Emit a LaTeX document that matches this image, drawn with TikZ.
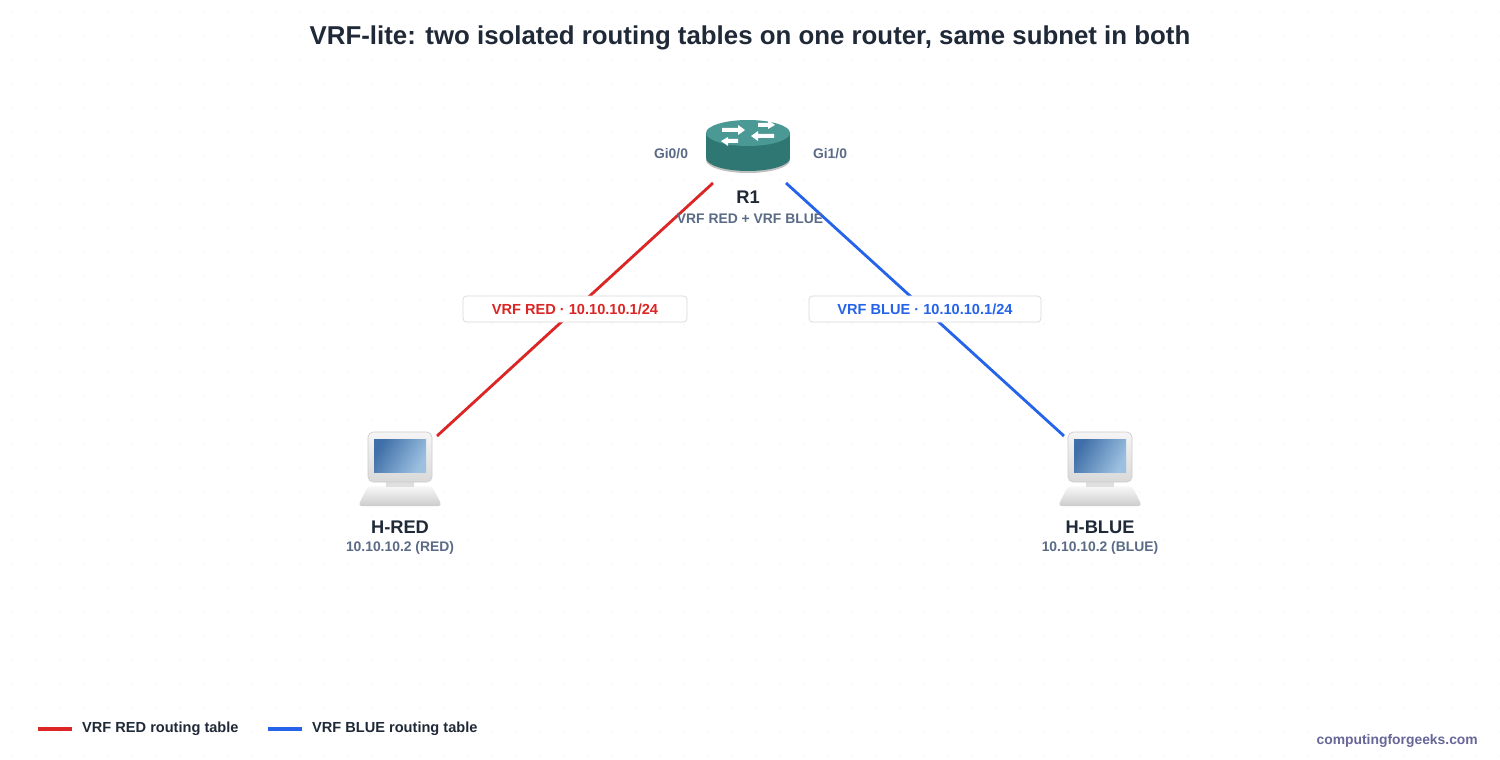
\documentclass[tikz,border=0pt]{standalone}
\usepackage{fontspec}
\setmainfont{Liberation Sans}
\definecolor{tred}{HTML}{DC2626}
\definecolor{tblue}{HTML}{2563EB}
\definecolor{tdark}{HTML}{1F2937}
\definecolor{tgrey}{HTML}{5B6B86}
\definecolor{teal1}{HTML}{4A9995}
\definecolor{teal2}{HTML}{2F7773}
\definecolor{scr1}{HTML}{3F6FA8}
\definecolor{scr2}{HTML}{9CC0E0}
\begin{document}
\begin{tikzpicture}[x=0.02cm,y=-0.02cm,
  lbl/.style={font=\bfseries\fontsize{7.9}{9}\selectfont,text=tgrey},
  hname/.style={font=\bfseries\fontsize{10.4}{12}\selectfont,text=tdark},
  tag/.style={draw=black!15,fill=white,rounded corners=2pt,minimum width=224*0.02cm,minimum height=26*0.02cm,font=\bfseries\fontsize{8.3}{10}\selectfont},
  link/.style={line width=1.6pt}]
\useasboundingbox (0,0) rectangle (1500,760);
\fill[white] (0,0) rectangle (1500,760);
\foreach \i in {0,...,62}{\foreach \j in {0,...,31}{\fill[black!8] (\i*24+12,\j*24+12) circle (0.6);}}
\node[font=\bfseries\fontsize{14.7}{17}\selectfont,text=tdark] (title) at (750,38) {VRF-lite: two isolated routing tables on one router, same subnet in both};
\coordinate (r1a) at (713,183);
\coordinate (r1b) at (786,183);
\coordinate (hra) at (437,436);
\coordinate (hba) at (1064,436);
\draw[link,tred] (r1a) -- (hra);
\draw[link,tblue] (r1b) -- (hba);
\node[tag,text=tred] (tr) at (575,309) {VRF RED · 10.10.10.1/24};
\node[tag,text=tblue,minimum width=232*0.02cm] (tb) at (925,309) {VRF BLUE · 10.10.10.1/24};
% router
\fill[gray!50] (748,160) ellipse (42 and 13);
\fill[teal2] (748,158) ellipse (42 and 13);
\fill[teal2] (706,133) rectangle (790,158);
\fill[teal1] (748,133) ellipse (42 and 13);
\fill[white] (722,128) -- (738,128) -- (738,125) -- (745,130) -- (738,135) -- (738,132) -- (722,132) -- cycle;
\fill[white] (774,138) -- (758,138) -- (758,141) -- (751,136) -- (758,131) -- (758,134) -- (774,134) -- cycle;
\fill[white] (758,123) -- (768,123) -- (768,120) -- (775,125) -- (768,129) -- (768,127) -- (758,127) -- cycle;
\fill[white] (738,143) -- (728,143) -- (728,146) -- (721,141) -- (728,137) -- (728,139) -- (738,139) -- cycle;
\node[hname] (r1) at (748,197) {R1};
\node[lbl] (r1s) at (750,219) {VRF RED + VRF BLUE};
\node[lbl] (gi0) at (671,154) {Gi0/0};
\node[lbl] (gi1) at (830,154) {Gi1/0};
% laptops
\foreach \n/\cx/\nm/\ip in {hr/400/H-RED/10.10.10.2 (RED),hb/1100/H-BLUE/10.10.10.2 (BLUE)}{
  \begin{scope}[shift={(\cx,0)}]
  \shade[top color=gray!5,bottom color=gray!40,rounded corners=2pt] (-32,486) -- (32,486) -- (42,506) -- (-42,506) -- cycle;
  \fill[gray!25] (-14,480) rectangle (14,487);
  \shade[top color=gray!8,bottom color=gray!30,rounded corners=3pt,draw=gray!40] (-32,432) rectangle (32,482);
  \shade[left color=scr1,right color=scr2,shading angle=60] (-26,439) rectangle (26,472);
  \end{scope}
  \node[hname] (\n) at (\cx,527) {\nm};
  \node[lbl] (\n s) at (\cx,548) {\ip};
}
% legend
\coordinate (l1a) at (38,729); \coordinate (l1b) at (72,729);
\coordinate (l2a) at (268,729); \coordinate (l2b) at (302,729);
\draw[line width=2.2pt,tred] (l1a) -- (l1b);
\draw[line width=2.2pt,tblue] (l2a) -- (l2b);
\node[anchor=west,font=\bfseries\fontsize{8.3}{10}\selectfont,text=tdark] (lt1) at (76,729) {VRF RED routing table};
\node[anchor=west,font=\bfseries\fontsize{8.3}{10}\selectfont,text=tdark] (lt2) at (306,729) {VRF BLUE routing table};
\node[anchor=east,font=\bfseries\fontsize{7.9}{9}\selectfont,text=gray!80!blue] (cfg) at (1484,741) {computingforgeeks.com};
\end{tikzpicture}
\end{document}
